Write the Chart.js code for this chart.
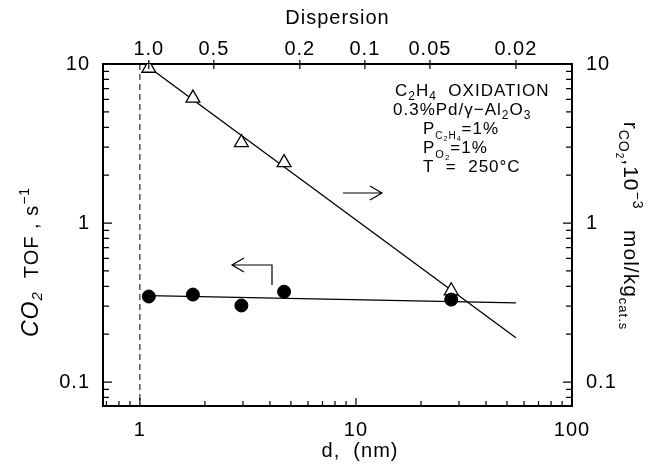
<!DOCTYPE html>
<html>
<head>
<meta charset="utf-8">
<script src="https://cdn.jsdelivr.net/npm/chart.js@4.4.0/dist/chart.umd.min.js"></script>
<style>
  html, body { margin: 0; padding: 0; background: #fff; }
  #wrap { width: 656px; height: 466px; }
</style>
</head>
<body>
<div id="wrap"><canvas id="chart" width="656" height="466"></canvas></div>
<script>
// Particle diameter d (nm) of the five catalysts
const diameters = [1.1, 1.76, 2.95, 4.65, 27.6];
// CO2 TOF, s^-1 (left axis, filled circles)
const tofValues = [0.345, 0.355, 0.303, 0.37, 0.33];
// r_CO2, 10^-3 mol/kg_cat.s (right axis, open triangles)
const rateValues = [9.4, 6.1, 3.2, 2.4, 0.375];

// Fitted lines
const rateFitD = [1.05, 55];
const rateFit = [10, 0.19];
const tofFitD = [1.1, 55];
const tofFit = [0.35, 0.315];

// Dashed marker at d = 1 nm
const dashD = [1.0, 1.0];
const dashY = [10, 0.0707];

// Axis ticks
const xTicks = [1, 10, 100];
const yTicks = [0.1, 1, 10];
const dispersionTicks = [1.0, 0.5, 0.2, 0.1, 0.05, 0.02];
const dispersionLabels = ['1.0', '0.5', '0.2', '0.1', '0.05', '0.02'];
const D_FACTOR = 1.1; // d (nm) ~ 1.1 / dispersion

const X_MIN = 0.675, X_MAX = 100;
const Y_MIN = 0.0707, Y_MAX = 10;

const FAMILY = '"Liberation Sans", Arial, Helvetica, sans-serif';

function pts(xs, ys) {
    return xs.map((x, i) => ({ x: x, y: ys[i] }));
}

// Draw a line of text made of pieces with own font / baseline shift
function drawRich(ctx, x, y, parts, rotation, align) {
    ctx.save();
    ctx.translate(x, y);
    ctx.rotate(rotation || 0);
    ctx.textAlign = 'left';
    ctx.textBaseline = 'alphabetic';
    let total = 0;
    parts.forEach(p => { ctx.font = p.f; total += ctx.measureText(p.t).width; });
    let cx = align === 'center' ? -total / 2 : 0;
    parts.forEach(p => {
        ctx.font = p.f;
        ctx.fillText(p.t, cx, p.dy || 0);
        cx += ctx.measureText(p.t).width;
    });
    ctx.restore();
}

const px = n => n + 'px ' + FAMILY;

// Inward axis ticks, arrows, labels
const decorations = {
    id: 'decorations',
    beforeDraw(chart) {
        // the original lettering is widely spaced
        chart.ctx.letterSpacing = '1px';
    },
    afterDraw(chart) {
        const { ctx, chartArea: a, scales } = chart;
        ctx.save();
        ctx.strokeStyle = '#000';
        ctx.fillStyle = '#000';
        ctx.lineWidth = 1.2;
        ctx.beginPath();
        for (let e = -2; e <= 2; e++) {
            for (let m = 1; m <= 9; m++) {
                const v = m * Math.pow(10, e);
                const len = m === 1 ? 8 : 5;
                if (v > X_MIN && v < X_MAX) {
                    const p = scales.x.getPixelForValue(v);
                    ctx.moveTo(p, a.bottom);
                    ctx.lineTo(p, a.bottom - len);
                }
                if (v > Y_MIN && v < Y_MAX) {
                    const p = scales.y.getPixelForValue(v);
                    ctx.moveTo(a.left, p);
                    ctx.lineTo(a.left + len + 1, p);
                    ctx.moveTo(a.right, p);
                    ctx.lineTo(a.right - len - 1, p);
                }
            }
        }
        dispersionTicks.forEach(D => {
            const p = scales.x2.getPixelForValue(D_FACTOR / D);
            ctx.moveTo(p, a.top - 4);
            ctx.lineTo(p, a.top + 5);
        });
        ctx.stroke();

        // arrow -> (rate, right axis)
        ctx.beginPath();
        ctx.moveTo(343, 193); ctx.lineTo(382, 193);
        ctx.moveTo(370, 186); ctx.lineTo(382, 193); ctx.lineTo(370, 200);
        // hooked arrow <- (TOF, left axis)
        ctx.moveTo(272, 285); ctx.lineTo(272, 265); ctx.lineTo(232, 265);
        ctx.moveTo(244, 258); ctx.lineTo(232, 265); ctx.lineTo(244, 272);
        ctx.stroke();

        // conditions block
        drawRich(ctx, 395, 96, [
            { t: 'C', f: px(17) }, { t: '2', f: px(12), dy: 4 },
            { t: 'H', f: px(17) }, { t: '4', f: px(12), dy: 4 },
            { t: '  OXIDATION', f: px(17) }
        ]);
        drawRich(ctx, 393, 115, [
            { t: '0.3%Pd/\u03b3\u2212Al', f: px(17) }, { t: '2', f: px(12), dy: 4 },
            { t: 'O', f: px(17) }, { t: '3', f: px(12), dy: 4 }
        ]);
        drawRich(ctx, 423, 134, [
            { t: 'P', f: px(17) },
            { t: 'C', f: px(10), dy: 5 }, { t: '2', f: px(7), dy: 7 },
            { t: 'H', f: px(10), dy: 5 }, { t: '4', f: px(7), dy: 7 },
            { t: '=1%', f: px(17) }
        ]);
        drawRich(ctx, 423, 153, [
            { t: 'P', f: px(17) },
            { t: 'O', f: px(11), dy: 5 }, { t: '2', f: px(8), dy: 7 },
            { t: '=1%', f: px(17) }
        ]);
        drawRich(ctx, 423, 172, [{ t: 'T  =  250\u00b0C', f: px(17) }]);

        // axis titles
        drawRich(ctx, 360, 457, [{ t: 'd,  (nm)', f: px(20) }], 0, 'center');
        drawRich(ctx, 38, 262, [
            { t: 'CO', f: 'italic ' + px(23) }, { t: '2', f: 'italic ' + px(15), dy: 4 },
            { t: '  TOF , s', f: px(20) }, { t: '\u22121', f: px(14), dy: -9 }
        ], -Math.PI / 2, 'center');
        drawRich(ctx, 624, 226, [
            { t: 'r', f: px(21) },
            { t: 'CO', f: px(14), dy: 5 }, { t: '2', f: px(10), dy: 8 },
            { t: ',10', f: px(21) }, { t: '\u22123', f: px(14), dy: -9 },
            { t: '   mol/kg', f: px(21) }, { t: 'cat.s', f: px(13), dy: 5 }
        ], Math.PI / 2, 'center');
        ctx.restore();
    }
};

function logAxis(position, min, max, tickValues, width, height, padding) {
    return {
        type: 'logarithmic',
        position: position,
        min: min,
        max: max,
        bounds: 'data',
        afterBuildTicks: s => { s.ticks = tickValues.map(v => ({ value: v })); },
        afterFit: s => {
            if (width !== null) s.width = width;
            if (height !== null) s.height = height;
        },
        grid: { display: false, drawTicks: false },
        border: { display: true, color: '#000', width: 2 },
        ticks: {
            autoSkip: false,
            maxRotation: 0,
            padding: padding,
            color: '#000',
            font: { family: FAMILY, size: 20 },
            callback: v => String(v)
        }
    };
}

const x2Axis = logAxis('top', X_MIN, X_MAX, dispersionTicks.map(D => D_FACTOR / D), null, 64, 3);
x2Axis.ticks.callback = (v, i) => dispersionLabels[i];
x2Axis.title = {
    display: true,
    text: 'Dispersion',
    color: '#000',
    font: { family: FAMILY, size: 20 },
    padding: { top: 6, bottom: 0 }
};

new Chart(document.getElementById('chart').getContext('2d'), {
    type: 'scatter',
    data: {
        datasets: [{
            label: 'CO2 TOF',
            data: pts(diameters, tofValues),
            yAxisID: 'y',
            pointStyle: 'circle',
            pointRadius: 6.5,
            backgroundColor: '#000',
            borderColor: '#000',
            borderWidth: 1
        }, {
            label: 'r CO2',
            data: pts(diameters, rateValues),
            yAxisID: 'y2',
            pointStyle: 'triangle',
            pointRadius: 8,
            backgroundColor: '#fff',
            borderColor: '#000',
            borderWidth: 1.3
        }, {
            label: 'rate fit',
            data: pts(rateFitD, rateFit),
            yAxisID: 'y2',
            showLine: true,
            pointRadius: 0,
            borderColor: '#000',
            borderWidth: 1.3
        }, {
            label: 'TOF fit',
            data: pts(tofFitD, tofFit),
            yAxisID: 'y',
            showLine: true,
            pointRadius: 0,
            borderColor: '#000',
            borderWidth: 1.3
        }, {
            label: 'd = 1 nm',
            data: pts(dashD, dashY),
            yAxisID: 'y',
            showLine: true,
            pointRadius: 0,
            borderColor: '#000',
            borderWidth: 1,
            borderDash: [6, 4]
        }]
    },
    options: {
        responsive: false,
        animation: false,
        layout: { padding: 0 },
        plugins: {
            legend: { display: false },
            tooltip: { enabled: false }
        },
        scales: {
            x: logAxis('bottom', X_MIN, X_MAX, xTicks, null, 60, 12),
            x2: x2Axis,
            y: logAxis('left', Y_MIN, Y_MAX, yTicks, 103, null, 13),
            y2: logAxis('right', Y_MIN, Y_MAX, yTicks, 84, null, 14)
        }
    },
    plugins: [decorations]
});
</script>
</body>
</html>
